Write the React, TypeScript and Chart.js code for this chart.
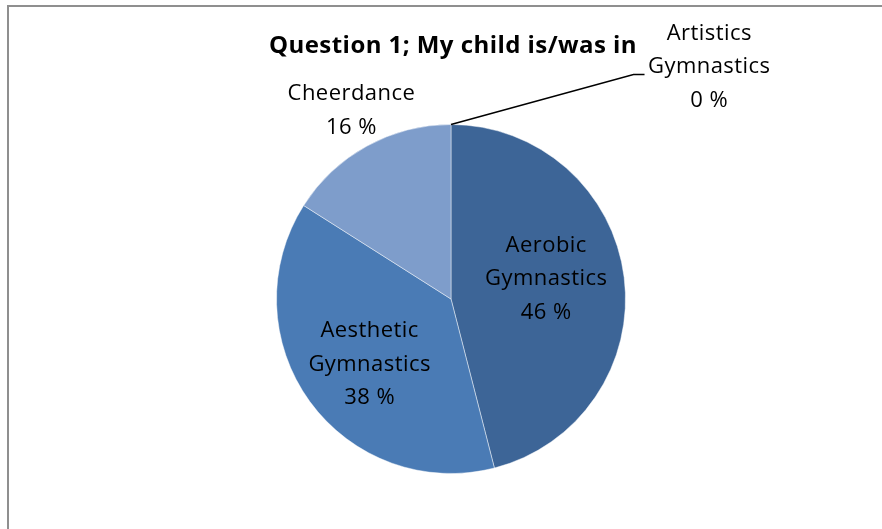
import React, { useEffect, useRef } from "react";
import { Chart, registerables } from "chart.js";

Chart.register(...registerables);

const categories = ["Aerobic Gymnastics", "Aesthetic Gymnastics", "Cheerdance", "Artistics Gymnastics"];
const values = [46, 38, 16, 0];
const percentLabels = ["46 %", "38 %", "16 %", "0 %"];
const nameLines = [["Aerobic", "Gymnastics"], ["Aesthetic", "Gymnastics"], ["Cheerdance"], ["Artistics", "Gymnastics"]];
const colors = ["#3D6597", "#4A7BB5", "#7E9DCB", "#3D6597"];
const titleText = "Question 1; My child is/was in";

const FONT = "'Open Sans', sans-serif";
const LABEL_SIZE = 22;
const TITLE_SIZE = 24;
const LINE_H = 33.5;

// label placement relative to each slice: radial factor + small nudge (in radius units)
const labelRadial = [0.55, 0.59, 1.22, 0];
const labelNudge = [[0, -0.046], [0.011, 0.029], [0.017, -0.009], [1.48, -1.33]];

const overlayPlugin = {
  id: "overlay",
  beforeDraw(chart: any) {
    const ctx = chart.ctx;
    ctx.save();
    ctx.strokeStyle = "#8f8f8f";
    ctx.lineWidth = 2;
    ctx.strokeRect(8, 6, chart.width + 20, chart.height + 20);
    ctx.restore();
  },
  afterDraw(chart: any) {
    const ctx = chart.ctx;
    const meta = chart.getDatasetMeta(0);
    ctx.save();
    // title
    ctx.fillStyle = "#000";
    ctx.font = `bold ${TITLE_SIZE}px ${FONT}`;
    (ctx as any).letterSpacing = "0.45px";
    ctx.textAlign = "center";
    ctx.textBaseline = "middle";
    const a0 = meta.data[0];
    ctx.fillText(titleText, a0.x + 2, 46);

    ctx.font = `${LABEL_SIZE}px ${FONT}`;
    (ctx as any).letterSpacing = "0.45px";
    meta.data.forEach((arc: any, i: number) => {
      const r = arc.outerRadius;
      const mid = (arc.startAngle + arc.endAngle) / 2;
      let cx: number, cy: number;
      if (i === 3) {
        cx = arc.x + labelNudge[i][0] * r;
        cy = arc.y + labelNudge[i][1] * r;
        // leader line
        const px = arc.x + Math.cos(arc.startAngle) * r;
        const py = arc.y + Math.sin(arc.startAngle) * r;
        const ex = arc.x + 1.046 * r;
        const ey = arc.y - 1.286 * r;
        ctx.strokeStyle = "#000";
        ctx.lineWidth = 1.5;
        ctx.beginPath();
        ctx.moveTo(px, py);
        ctx.lineTo(ex, ey);
        ctx.lineTo(ex + 11, ey);
        ctx.stroke();
      } else {
        cx = arc.x + Math.cos(mid) * r * labelRadial[i] + labelNudge[i][0] * r;
        cy = arc.y + Math.sin(mid) * r * labelRadial[i] + labelNudge[i][1] * r;
      }
      const lines = [...nameLines[i], percentLabels[i]];
      const top = cy - ((lines.length - 1) * LINE_H) / 2;
      ctx.fillStyle = "#000";
      lines.forEach((t, k) => ctx.fillText(t, cx, top + k * LINE_H));
    });
    ctx.restore();
  },
};

export default function App() {
  const ref = useRef<HTMLCanvasElement>(null);
  useEffect(() => {
    if (!ref.current) return;
    const chart = new Chart(ref.current, {
      type: "pie",
      data: {
        labels: categories,
        datasets: [
          {
            data: values,
            backgroundColor: colors,
            borderColor: "rgba(255,255,255,0.45)",
            borderWidth: 1,
          },
        ],
      },
      options: {
        responsive: false,
        animation: false,
        layout: { padding: { top: 124, bottom: 55, left: 100, right: 80 } },
        plugins: {
          legend: { display: false },
          tooltip: { enabled: false },
          title: { display: false },
        },
      },
      plugins: [overlayPlugin],
    });
    return () => chart.destroy();
  }, []);
  return (
    <div style={{ position: "fixed", left: 0, top: 0, width: 882, height: 529, background: "#fff" }}>
      <canvas ref={ref} width={882} height={529} style={{ display: "block" }} />
    </div>
  );
}
